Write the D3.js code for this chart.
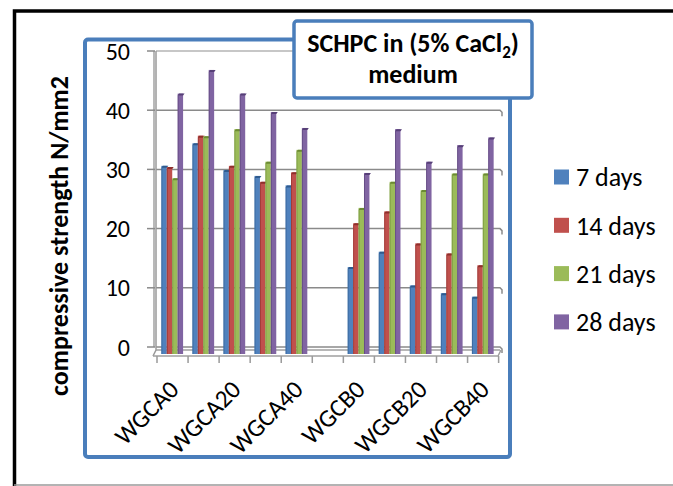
<!DOCTYPE html>
<html>
<head>
<meta charset="utf-8">
<script src="https://cdn.jsdelivr.net/npm/d3@7/dist/d3.min.js"></script>
<style>
  body { margin: 0; background: #fff; }
  svg { display: block; }
  text { font-family: Carlito, Calibri, Lato, sans-serif; fill: #000; }
</style>
</head>
<body>
<div id="chart"></div>
<script>
// categories (odd ones are not labelled on the axis, index 5 is an empty gap)
const categories = ['WGCA0', 'WGCA10', 'WGCA20', 'WGCA30', 'WGCA40', '',
  'WGCB0', 'WGCB10', 'WGCB20', 'WGCB30', 'WGCB40'];
const shownLabels = ['WGCA0', 'WGCA20', 'WGCA40', 'WGCB0', 'WGCB20', 'WGCB40'];
const seriesNames = ['7 days', '14 days', '21 days', '28 days'];
const days7 = [30.6, 34.4, 29.9, 28.9, 27.3, null, 13.5, 16.1, 10.4, 9.1, 8.5];
const days14 = [30.4, 35.7, 30.6, 27.9, 29.5, null, 20.9, 22.9, 17.5, 15.8, 13.8];
const days21 = [28.5, 35.6, 36.8, 31.3, 33.3, null, 23.5, 27.9, 26.5, 29.3, 29.3];
const days28 = [42.8, 46.8, 42.8, 39.7, 37.0, null, 29.4, 36.8, 31.3, 34.1, 35.4];
const yTicks = [0, 10, 20, 30, 40, 50];
const colors = ['#4F81BD', '#C0504D', '#9BBB59', '#8064A2'];
const darker = ['#2f5b8e', '#8e2f2c', '#6b8a33', '#563f77'];

const width = 673;
const height = 486;

const svg = d3.select('#chart')
  .append('svg')
  .attr('width', width)
  .attr('height', height);

const series = [days7, days14, days21, days28];
const rows = categories.map((c, i) => ({
  cat: c,
  values: series.map((s, k) => ({ k, v: s[i] })),
}));

// scales
const x0 = d3.scaleBand()
  .domain(categories.map((c, i) => i))
  .range([157, 498])
  .paddingInner(0.3)
  .paddingOuter(0.14);
const x1 = d3.scaleBand()
  .domain(d3.range(seriesNames.length))
  .range([0, x0.bandwidth()]);
const y = d3.scaleLinear().domain([0, 50]).range([347, 51]);
const depth = 7; // 3d floor depth

// outer black frame
svg.append('path')
  .attr('d', `M14.5,${height} V11 H${width}`)
  .attr('fill', 'none')
  .attr('stroke', '#000')
  .attr('stroke-width', 3.5);
svg.append('line')
  .attr('x1', 14).attr('x2', width)
  .attr('y1', 485).attr('y2', 485)
  .attr('stroke', '#9a9a9a')
  .attr('stroke-width', 1.5);

// blue plot frame (fill)
svg.append('rect')
  .attr('x', 85).attr('y', 39.5)
  .attr('width', 425).attr('height', 417.5)
  .attr('rx', 3)
  .attr('fill', '#fff');

// grid (back wall)
const [gx0, gx1] = [156, 500];
svg.append('g')
  .selectAll('path')
  .data(yTicks)
  .enter()
  .append('path')
  .attr('d', (d) => `M${gx0},${y(d)} H${gx1} l2,2 v4`)
  .attr('fill', 'none')
  .attr('stroke', (d) => (d === 50 ? '#b5b5b5' : '#8a8a8a'))
  .attr('stroke-width', 1.5);

// left wall / floor
svg.append('path')
  .attr('d', `M${gx0},${y(50)} V${y(0) + 3} l-3,${depth - 1}`)
  .attr('fill', 'none')
  .attr('stroke', '#9a9a9a')
  .attr('stroke-width', 1.5);
svg.append('path')
  .attr('d', `M${gx0},${y(0) + 3} H${gx1} M${gx0 - 3},${y(0) + depth + 2} H${gx1 - 2} l3,-${depth - 1}`)
  .attr('fill', 'none')
  .attr('stroke', '#a0a0a0')
  .attr('stroke-width', 1.5);

// y axis
const yAxis = svg.append('g');
yAxis.append('line')
  .attr('x1', 154).attr('x2', 154)
  .attr('y1', y(50)).attr('y2', y(0))
  .attr('stroke', '#8a8a8a')
  .attr('stroke-width', 1.2);
yAxis.selectAll('.tick')
  .data(yTicks)
  .enter()
  .append('line')
  .attr('x1', 147).attr('x2', 155)
  .attr('y1', (d) => y(d)).attr('y2', (d) => y(d))
  .attr('stroke', '#8a8a8a')
  .attr('stroke-width', 1.5);
yAxis.selectAll('text')
  .data(yTicks)
  .enter()
  .append('text')
  .attr('x', 130)
  .attr('y', (d) => y(d))
  .attr('dy', '0.36em')
  .attr('text-anchor', 'end')
  .attr('font-size', 24)
  .text((d) => d);

// x axis ticks at band edges
const edges = d3.range(categories.length + 1).map((i) => 157 + i * x0.step());
svg.append('g')
  .selectAll('line')
  .data(edges)
  .enter()
  .append('line')
  .attr('x1', (d) => d).attr('x2', (d) => d)
  .attr('y1', y(0) + depth + 2).attr('y2', y(0) + 16)
  .attr('stroke', '#9a9a9a')
  .attr('stroke-width', 1.5);

// bars
const groups = svg.selectAll('.grp')
  .data(rows)
  .enter()
  .append('g')
  .attr('class', 'grp')
  .attr('transform', (d, i) => `translate(${x0(i)},0)`);
const bars = groups.selectAll('.bar')
  .data((d) => d.values.filter((e) => e.v !== null))
  .enter()
  .append('g')
  .attr('class', 'bar');
bars.append('rect')
  .attr('x', (d) => x1(d.k))
  .attr('y', (d) => y(d.v))
  .attr('width', x1.bandwidth())
  .attr('height', (d) => y(0) + depth - y(d.v))
  .attr('fill', (d) => colors[d.k]);
bars.append('path') // dark top cap
  .attr('d', (d) => `M${x1(d.k)},${y(d.v) + 2} l1.5,-2 h${x1.bandwidth()} l-1.5,2 Z`)
  .attr('fill', (d) => darker[d.k]);
bars.append('rect') // shaded left edge
  .attr('x', (d) => x1(d.k))
  .attr('y', (d) => y(d.v) + 2)
  .attr('width', 1)
  .attr('height', (d) => y(0) + depth - y(d.v) - 2)
  .attr('fill', (d) => darker[d.k])
  .attr('opacity', 0.6);

// x labels (every other category)
svg.append('g')
  .selectAll('text')
  .data(categories.map((c, i) => ({ c, i })).filter((d) => shownLabels.includes(d.c)))
  .enter()
  .append('text')
  .attr('transform', (d) => `translate(${x0(d.i) + x0.bandwidth() / 2 + 8},${y(0) + 44}) rotate(-45)`)
  .attr('text-anchor', 'end')
  .attr('font-size', 25)
  .text((d) => d.c);

// blue plot frame (border, over the labels)
svg.append('rect')
  .attr('x', 85).attr('y', 39.5)
  .attr('width', 425).attr('height', 417.5)
  .attr('rx', 3)
  .attr('fill', 'none')
  .attr('stroke', '#4A7EBB')
  .attr('stroke-width', 4);
// hide label parts below the frame
svg.append('rect')
  .attr('x', 83).attr('y', 459.5)
  .attr('width', 430).attr('height', 24)
  .attr('fill', '#fff');

// y title
svg.append('text')
  .attr('transform', 'translate(68,236) rotate(-90)')
  .attr('text-anchor', 'middle')
  .attr('font-size', 26)
  .attr('font-weight', 'bold')
  .text('compressive strength N/mm2');

// chart title box
svg.append('rect')
  .attr('x', 294).attr('y', 21)
  .attr('width', 238).attr('height', 77)
  .attr('rx', 3)
  .attr('fill', '#fff')
  .attr('stroke', '#4A7EBB')
  .attr('stroke-width', 3.5);
const title = svg.append('text')
  .attr('x', 413).attr('y', 52)
  .attr('text-anchor', 'middle')
  .attr('font-size', 26)
  .attr('font-weight', 'bold');
title.append('tspan').text('SCHPC in (5% CaCl');
title.append('tspan').attr('font-size', 17).attr('dy', 6).text('2');
title.append('tspan').attr('dy', -6).text(')');
svg.append('text')
  .attr('x', 413).attr('y', 83)
  .attr('text-anchor', 'middle')
  .attr('font-size', 26)
  .attr('font-weight', 'bold')
  .text('medium');

// legend
const legend = svg.selectAll('.legend')
  .data(seriesNames)
  .enter()
  .append('g')
  .attr('class', 'legend')
  .attr('transform', (d, i) => `translate(554,${177 + i * 48.3})`);
legend.append('rect')
  .attr('x', 0).attr('y', -7.5)
  .attr('width', 15).attr('height', 15)
  .attr('fill', (d, i) => colors[i]);
legend.append('text')
  .attr('x', 22)
  .attr('dy', '0.36em')
  .attr('font-size', 26)
  .text((d) => d);
</script>
</body>
</html>
